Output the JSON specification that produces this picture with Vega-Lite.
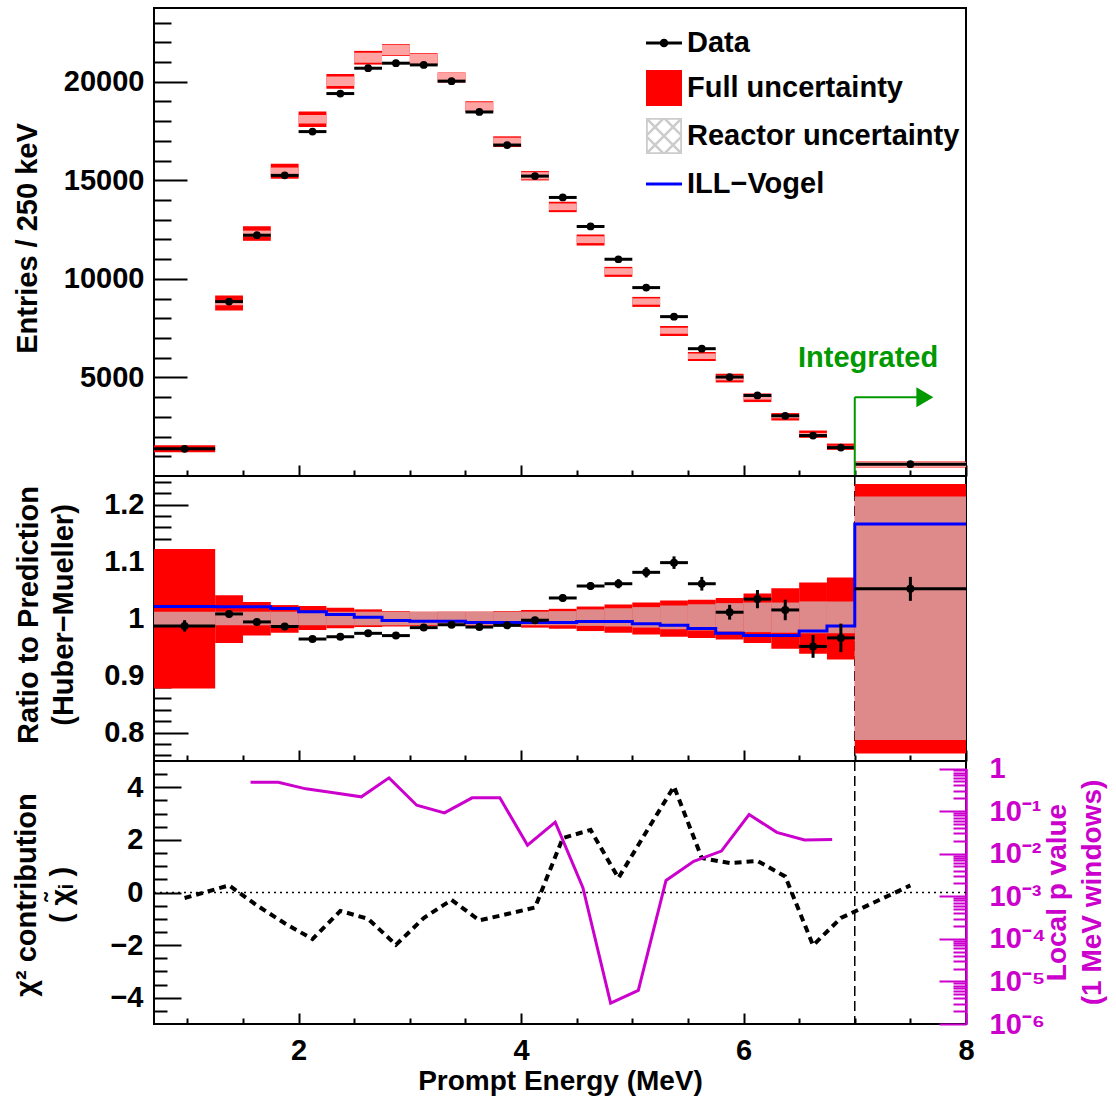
{
  "$schema": "https://vega.github.io/schema/vega-lite/v6.json",
  "padding": {"left": 11, "top": 7, "right": 4, "bottom": 4},
  "background": "white",
  "spacing": 0,
  "bounds": "flush",
  "config": {
    "font": "Liberation Sans",
    "view": {"stroke": "black", "strokeWidth": 2},
    "axis": {"domain": false, "grid": false, "labelFont": "Liberation Sans", "labelFontWeight": "bold", "labelFontSize": 29, "labelColor": "black", "titleFont": "Liberation Sans", "titleFontWeight": "bold", "titleFontSize": 29, "titleColor": "black", "tickColor": "black", "tickWidth": 2, "labelOverlap": false, "labelFlush": false, "labelBound": false}
  },
  "resolve": {"legend": {"color": "independent", "shape": "independent"}},
  "datasets": {
    "top": [
      {"lo": 0.7, "hi": 1.25, "c": 0.975, "d": 1377, "flo": 1209, "fhi": 1565, "rlo": 1370, "rhi": 1404},
      {"lo": 1.25, "hi": 1.5, "c": 1.375, "d": 8846, "flo": 8390, "fhi": 9150, "rlo": 8665, "rhi": 8875},
      {"lo": 1.5, "hi": 1.75, "c": 1.625, "d": 12215, "flo": 11930, "fhi": 12670, "rlo": 12152, "rhi": 12448},
      {"lo": 1.75, "hi": 2.0, "c": 1.875, "d": 15250, "flo": 15080, "fhi": 15840, "rlo": 15274, "rhi": 15646},
      {"lo": 2.0, "hi": 2.25, "c": 2.125, "d": 17470, "flo": 17700, "fhi": 18485, "rlo": 17875, "rhi": 18309},
      {"lo": 2.25, "hi": 2.5, "c": 2.375, "d": 19400, "flo": 19650, "fhi": 20395, "rlo": 19782, "rhi": 20262},
      {"lo": 2.5, "hi": 2.75, "c": 2.625, "d": 20685, "flo": 20870, "fhi": 21565, "rlo": 20963, "rhi": 21473},
      {"lo": 2.75, "hi": 3.0, "c": 2.875, "d": 20940, "flo": 21310, "fhi": 21905, "rlo": 21349, "rhi": 21867},
      {"lo": 3.0, "hi": 3.25, "c": 3.125, "d": 20853, "flo": 20853, "fhi": 21447, "rlo": 20896, "rhi": 21404},
      {"lo": 3.25, "hi": 3.5, "c": 3.375, "d": 20030, "flo": 19959, "fhi": 20467, "rlo": 19970, "rhi": 20456},
      {"lo": 3.5, "hi": 3.75, "c": 3.625, "d": 18465, "flo": 18465, "fhi": 19008, "rlo": 18512, "rhi": 18962},
      {"lo": 3.75, "hi": 4.0, "c": 3.875, "d": 16788, "flo": 16687, "fhi": 17230, "rlo": 16754, "rhi": 17162},
      {"lo": 4.0, "hi": 4.25, "c": 4.125, "d": 15213, "flo": 14994, "fhi": 15467, "rlo": 15047, "rhi": 15413},
      {"lo": 4.25, "hi": 4.5, "c": 4.375, "d": 14130, "flo": 13384, "fhi": 13912, "rlo": 13484, "rhi": 13825},
      {"lo": 4.5, "hi": 4.75, "c": 4.625, "d": 12657, "flo": 11690, "fhi": 12250, "rlo": 11814, "rhi": 12162},
      {"lo": 4.75, "hi": 5.0, "c": 4.875, "d": 10995, "flo": 10101, "fhi": 10609, "rlo": 10210, "rhi": 10541},
      {"lo": 5.0, "hi": 5.25, "c": 5.125, "d": 9557, "flo": 8577, "fhi": 9085, "rlo": 8690, "rhi": 9008},
      {"lo": 5.25, "hi": 5.5, "c": 5.375, "d": 8084, "flo": 7103, "fhi": 7611, "rlo": 7217, "rhi": 7526},
      {"lo": 5.5, "hi": 5.75, "c": 5.625, "d": 6458, "flo": 5833, "fhi": 6290, "rlo": 5935, "rhi": 6214},
      {"lo": 5.75, "hi": 6.0, "c": 5.875, "d": 5020, "flo": 4746, "fhi": 5188, "rlo": 4853, "rhi": 5101},
      {"lo": 6.0, "hi": 6.25, "c": 6.125, "d": 4085, "flo": 3750, "fhi": 4187, "rlo": 3873, "rhi": 4079},
      {"lo": 6.25, "hi": 6.5, "c": 6.375, "d": 3054, "flo": 2815, "fhi": 3191, "rlo": 2928, "rhi": 3087},
      {"lo": 6.5, "hi": 6.75, "c": 6.625, "d": 2053, "flo": 1936, "fhi": 2307, "rlo": 2066, "rhi": 2185},
      {"lo": 6.75, "hi": 7.0, "c": 6.875, "d": 1443, "flo": 1326, "fhi": 1646, "rlo": 1447, "rhi": 1531},
      {"lo": 7.0, "hi": 8.0, "c": 7.5, "d": 600, "flo": 427, "fhi": 732, "rlo": 457, "rhi": 704}
    ],
    "mid": [
      {"lo": 0.7, "hi": 1.25, "c": 0.975, "r": 0.987, "elo": 0.977, "ehi": 0.997, "flo": 0.877, "fhi": 1.122, "hlo": 0.988, "hhi": 1.012},
      {"lo": 1.25, "hi": 1.5, "c": 1.375, "r": 1.008, "elo": 1.002, "ehi": 1.014, "flo": 0.957, "fhi": 1.041, "hlo": 0.988, "hhi": 1.012},
      {"lo": 1.5, "hi": 1.75, "c": 1.625, "r": 0.994, "elo": 0.989, "ehi": 0.999, "flo": 0.970, "fhi": 1.029, "hlo": 0.988, "hhi": 1.012},
      {"lo": 1.75, "hi": 2.0, "c": 1.875, "r": 0.986, "elo": 0.981, "ehi": 0.991, "flo": 0.975, "fhi": 1.0235, "hlo": 0.988, "hhi": 1.012},
      {"lo": 2.0, "hi": 2.25, "c": 2.125, "r": 0.964, "elo": 0.959, "ehi": 0.969, "flo": 0.980, "fhi": 1.022, "hlo": 0.988, "hhi": 1.012},
      {"lo": 2.25, "hi": 2.5, "c": 2.375, "r": 0.968, "elo": 0.963, "ehi": 0.973, "flo": 0.983, "fhi": 1.019, "hlo": 0.988, "hhi": 1.012},
      {"lo": 2.5, "hi": 2.75, "c": 2.625, "r": 0.974, "elo": 0.969, "ehi": 0.979, "flo": 0.985, "fhi": 1.016, "hlo": 0.988, "hhi": 1.012},
      {"lo": 2.75, "hi": 3.0, "c": 2.875, "r": 0.970, "elo": 0.965, "ehi": 0.975, "flo": 0.986, "fhi": 1.013, "hlo": 0.988, "hhi": 1.012},
      {"lo": 3.0, "hi": 3.25, "c": 3.125, "r": 0.984, "elo": 0.979, "ehi": 0.989, "flo": 0.987, "fhi": 1.012, "hlo": 0.988, "hhi": 1.012},
      {"lo": 3.25, "hi": 3.5, "c": 3.375, "r": 0.989, "elo": 0.984, "ehi": 0.994, "flo": 0.987, "fhi": 1.012, "hlo": 0.988, "hhi": 1.012},
      {"lo": 3.5, "hi": 3.75, "c": 3.625, "r": 0.985, "elo": 0.980, "ehi": 0.990, "flo": 0.987, "fhi": 1.012, "hlo": 0.988, "hhi": 1.012},
      {"lo": 3.75, "hi": 4.0, "c": 3.875, "r": 0.988, "elo": 0.983, "ehi": 0.993, "flo": 0.986, "fhi": 1.013, "hlo": 0.988, "hhi": 1.012},
      {"lo": 4.0, "hi": 4.25, "c": 4.125, "r": 0.997, "elo": 0.992, "ehi": 1.002, "flo": 0.984, "fhi": 1.015, "hlo": 0.988, "hhi": 1.012},
      {"lo": 4.25, "hi": 4.5, "c": 4.375, "r": 1.036, "elo": 1.030, "ehi": 1.042, "flo": 0.982, "fhi": 1.017, "hlo": 0.988, "hhi": 1.013},
      {"lo": 4.5, "hi": 4.75, "c": 4.625, "r": 1.057, "elo": 1.050, "ehi": 1.064, "flo": 0.978, "fhi": 1.021, "hlo": 0.987, "hhi": 1.016},
      {"lo": 4.75, "hi": 5.0, "c": 4.875, "r": 1.061, "elo": 1.053, "ehi": 1.069, "flo": 0.975, "fhi": 1.0246, "hlo": 0.986, "hhi": 1.018},
      {"lo": 5.0, "hi": 5.25, "c": 5.125, "r": 1.081, "elo": 1.072, "ehi": 1.090, "flo": 0.972, "fhi": 1.028, "hlo": 0.984, "hhi": 1.020},
      {"lo": 5.25, "hi": 5.5, "c": 5.375, "r": 1.098, "elo": 1.087, "ehi": 1.109, "flo": 0.968, "fhi": 1.0316, "hlo": 0.981, "hhi": 1.023},
      {"lo": 5.5, "hi": 5.75, "c": 5.625, "r": 1.061, "elo": 1.049, "ehi": 1.073, "flo": 0.966, "fhi": 1.033, "hlo": 0.979, "hhi": 1.025},
      {"lo": 5.75, "hi": 6.0, "c": 5.875, "r": 1.011, "elo": 0.998, "ehi": 1.024, "flo": 0.963, "fhi": 1.036, "hlo": 0.977, "hhi": 1.027},
      {"lo": 6.0, "hi": 6.25, "c": 6.125, "r": 1.034, "elo": 1.018, "ehi": 1.050, "flo": 0.957, "fhi": 1.044, "hlo": 0.976, "hhi": 1.028},
      {"lo": 6.25, "hi": 6.5, "c": 6.375, "r": 1.015, "elo": 0.997, "ehi": 1.033, "flo": 0.947, "fhi": 1.053, "hlo": 0.975, "hhi": 1.028},
      {"lo": 6.5, "hi": 6.75, "c": 6.625, "r": 0.951, "elo": 0.931, "ehi": 0.971, "flo": 0.938, "fhi": 1.063, "hlo": 0.974, "hhi": 1.030},
      {"lo": 6.75, "hi": 7.0, "c": 6.875, "r": 0.966, "elo": 0.941, "ehi": 0.991, "flo": 0.928, "fhi": 1.072, "hlo": 0.974, "hhi": 1.030},
      {"lo": 7.0, "hi": 8.0, "c": 7.5, "r": 1.052, "elo": 1.031, "ehi": 1.073, "flo": 0.763, "fhi": 1.236, "hlo": 0.787, "hhi": 1.214}
    ],
    "ill": [
      {"e": 0.7, "v": 1.021}, {"e": 1.25, "v": 1.0205}, {"e": 1.5, "v": 1.0205}, {"e": 1.75, "v": 1.0176},
      {"e": 2.0, "v": 1.012}, {"e": 2.25, "v": 1.007}, {"e": 2.5, "v": 1.002}, {"e": 2.75, "v": 0.9965},
      {"e": 3.0, "v": 0.995}, {"e": 3.25, "v": 0.995}, {"e": 3.5, "v": 0.993}, {"e": 3.75, "v": 0.993},
      {"e": 4.0, "v": 0.993}, {"e": 4.25, "v": 0.993}, {"e": 4.5, "v": 0.9947}, {"e": 4.75, "v": 0.9947},
      {"e": 5.0, "v": 0.991}, {"e": 5.25, "v": 0.988}, {"e": 5.5, "v": 0.9825}, {"e": 5.75, "v": 0.974},
      {"e": 6.0, "v": 0.970}, {"e": 6.25, "v": 0.970}, {"e": 6.5, "v": 0.978}, {"e": 6.75, "v": 0.987},
      {"e": 7.0, "v": 1.166}, {"e": 8.0, "v": 1.166}
    ],
    "chi": [
      {"c": 0.975, "chi": -0.21}, {"c": 1.375, "chi": 0.27}, {"c": 1.625, "chi": -0.49}, {"c": 1.875, "chi": -1.17},
      {"c": 2.125, "chi": -1.77}, {"c": 2.375, "chi": -0.70}, {"c": 2.625, "chi": -1.0}, {"c": 2.875, "chi": -1.99},
      {"c": 3.125, "chi": -0.97}, {"c": 3.375, "chi": -0.28}, {"c": 3.625, "chi": -1.06}, {"c": 3.875, "chi": -0.82},
      {"c": 4.125, "chi": -0.57}, {"c": 4.375, "chi": 2.07}, {"c": 4.625, "chi": 2.38}, {"c": 4.875, "chi": 0.55},
      {"c": 5.125, "chi": 2.30}, {"c": 5.375, "chi": 4.03}, {"c": 5.625, "chi": 1.31}, {"c": 5.875, "chi": 1.12},
      {"c": 6.125, "chi": 1.20}, {"c": 6.375, "chi": 0.61}, {"c": 6.625, "chi": -2.01}, {"c": 6.875, "chi": -0.97},
      {"c": 7.5, "chi": 0.27}
    ],
    "pval": [
      {"e": 1.568, "p": 0.4775}, {"e": 1.817, "p": 0.4775}, {"e": 2.066, "p": 0.3327}, {"e": 2.315, "p": 0.2679},
      {"e": 2.564, "p": 0.2158}, {"e": 2.813, "p": 0.6039}, {"e": 3.062, "p": 0.1374}, {"e": 3.311, "p": 0.0908},
      {"e": 3.56, "p": 0.2046}, {"e": 3.809, "p": 0.2046}, {"e": 4.058, "p": 0.01585}, {"e": 4.307, "p": 0.055},
      {"e": 4.556, "p": 0.001585}, {"e": 4.805, "p": 0.00000309}, {"e": 5.054, "p": 0.00000617}, {"e": 5.303, "p": 0.002344},
      {"e": 5.552, "p": 0.006607}, {"e": 5.801, "p": 0.01148}, {"e": 6.05, "p": 0.0832}, {"e": 6.299, "p": 0.03162},
      {"e": 6.548, "p": 0.02089}, {"e": 6.797, "p": 0.02138}
    ]
  },
  "vconcat": [
    {
      "width": 812,
      "height": 468,
      "resolve": {"axis": {"y": "independent"}},
      "layer": [
        {
          "data": {"name": "top"},
          "layer": [
            {
              "mark": {"type": "rect", "color": "#ff0000"},
              "encoding": {
                "x": {"field": "lo", "type": "quantitative", "scale": {"domain": [0.7, 8], "nice": false, "zero": false},
                  "axis": {"values": [1, 1.5, 2, 2.5, 3, 3.5, 4, 4.5, 5, 5.5, 6, 6.5, 7, 7.5, 8], "labels": false, "title": null, "minExtent": 0,
                    "tickSize": {"condition": {"test": "datum.value % 2 === 0", "value": -11}, "value": -6}}},
                "x2": {"field": "hi"},
                "y": {"field": "flo", "type": "quantitative", "scale": {"domain": [0, 23740], "nice": false, "zero": false},
                  "axis": {"orient": "left", "values": [5000, 10000, 15000, 20000], "format": "d", "tickSize": -33, "labelPadding": 43,
                    "title": "Entries / 250 keV", "titleX": -127, "titleY": 230, "titleBaseline": "middle", "titleAngle": 270, "titleAlign": "center"}},
                "y2": {"field": "fhi"}
              }
            },
            {
              "mark": {"type": "rect", "color": "#ffa3a3"},
              "encoding": {
                "x": {"field": "lo", "type": "quantitative"},
                "x2": {"field": "hi"},
                "y": {"field": "rlo", "type": "quantitative"},
                "y2": {"field": "rhi"}
              }
            },
            {
              "mark": {"type": "rule", "color": "black", "strokeWidth": 3},
              "encoding": {
                "x": {"field": "lo", "type": "quantitative"},
                "x2": {"field": "hi"},
                "y": {"field": "d", "type": "quantitative"}
              }
            },
            {
              "mark": {"type": "point", "filled": true, "color": "black", "opacity": 1, "size": 60, "strokeWidth": 0},
              "encoding": {
                "x": {"field": "c", "type": "quantitative"},
                "y": {"field": "d", "type": "quantitative"}
              }
            },
            {
              "data": {"values": [{"x": 7, "ya": 0, "yb": 4000}]},
              "mark": {"type": "rule", "color": "#009900", "strokeWidth": 2},
              "encoding": {
                "x": {"field": "x", "type": "quantitative"},
                "y": {"field": "ya", "type": "quantitative"},
                "y2": {"field": "yb"}
              }
            },
            {
              "data": {"values": [{"xa": 7, "xb": 7.56, "y": 4000}]},
              "mark": {"type": "rule", "color": "#009900", "strokeWidth": 2},
              "encoding": {
                "x": {"field": "xa", "type": "quantitative"},
                "x2": {"field": "xb"},
                "y": {"field": "y", "type": "quantitative"}
              }
            },
            {
              "data": {"values": [{"x": 7.63, "y": 4000}]},
              "mark": {"type": "point", "shape": "M-0.85,-1L0.85,0L-0.85,1Z", "filled": true, "color": "#009900", "opacity": 1, "size": 400, "strokeWidth": 0},
              "encoding": {
                "x": {"field": "x", "type": "quantitative"},
                "y": {"field": "y", "type": "quantitative"}
              }
            },
            {
              "data": {"values": [{"x": 7.12, "y": 5540, "label": "Integrated"}]},
              "mark": {"type": "text", "color": "#009900", "font": "Liberation Sans", "fontWeight": "bold", "fontSize": 29, "align": "center", "baseline": "alphabetic"},
              "encoding": {
                "x": {"field": "x", "type": "quantitative"},
                "y": {"field": "y", "type": "quantitative"},
                "text": {"field": "label"}
              }
            },
            {
              "data": {"values": [{"series": "Data"}, {"series": "Full uncertainty"}, {"series": "Reactor uncertainty"}, {"series": "ILL−Vogel"}]},
              "mark": {"type": "point", "filled": true, "opacity": 1, "invalid": "filter", "strokeWidth": 0},
              "encoding": {
                "x": {"field": "c", "type": "quantitative"},
                "y": {"field": "d", "type": "quantitative"},
                "color": {"field": "series", "type": "nominal",
                  "scale": {"domain": ["Data", "Full uncertainty", "Reactor uncertainty", "ILL−Vogel"], "range": ["#000000", "#ff0000", "#cccccc", "#0000ff"]},
                  "legend": {"orient": "none", "legendX": 492, "legendY": 17, "title": null, "symbolSize": 1296, "labelFontSize": 29, "labelFont": "Liberation Sans", "labelFontWeight": "bold", "labelColor": "black", "labelOffset": 5, "rowPadding": 12, "labelLimit": 600, "padding": 0, "symbolStrokeWidth": 0, "symbolOpacity": 1}},
                "shape": {"field": "series", "type": "nominal",
                  "scale": {"domain": ["Data", "Full uncertainty", "Reactor uncertainty", "ILL−Vogel"],
                    "range": [
                      "M-1,-0.09H1V0.09H-1Z M-0.24,0A0.24,0.24,0,1,1,0.24,0A0.24,0.24,0,1,1,-0.24,0Z",
                      "M-1,-1H1V1H-1Z",
                      "M-1,-1H1V1H-1Z M-0.9,-0.9V0.9H0.9V-0.9Z M-1,0.9L0.9,-1L1,-1L1,-0.9L-0.9,1L-1,1Z M-1,-0.1L-0.1,-1L0.1,-1L-1,0.1Z M1,0.1L0.1,1L-0.1,1L1,-0.1Z M-1,-1L-0.9,-1L1,0.9L1,1L0.9,1L-1,-0.9Z M-1,-0.1L0.1,1L-0.1,1L-1,0.1Z M0.1,-1L1,-0.1L1,0.1L-0.1,-1Z",
                      "M-1,-0.09H1V0.09H-1Z"
                    ]}}
              }
            }
          ]
        },
        {
          "data": {"values": []},
          "mark": {"type": "point"},
          "encoding": {
            "y": {"field": "flo", "type": "quantitative",
              "axis": {"orient": "left", "values": [1000, 2000, 3000, 4000, 6000, 7000, 8000, 9000, 11000, 12000, 13000, 14000, 16000, 17000, 18000, 19000, 21000, 22000, 23000], "labels": false, "title": null, "tickSize": -17, "minExtent": 0}}
          }
        }
      ]
    },
    {
      "width": 812,
      "height": 285,
      "resolve": {"axis": {"y": "independent"}},
      "layer": [
        {
          "data": {"name": "mid"},
          "layer": [
            {
              "data": {"values": [{"x": 7}]},
              "mark": {"type": "rule", "color": "black", "strokeWidth": 1.5, "strokeDash": [10, 5]},
              "encoding": {
                "x": {"field": "x", "type": "quantitative", "scale": {"domain": [0.7, 8], "nice": false, "zero": false},
                  "axis": {"values": [1, 1.5, 2, 2.5, 3, 3.5, 4, 4.5, 5, 5.5, 6, 6.5, 7, 7.5, 8], "labels": false, "title": null, "minExtent": 0,
                    "tickSize": {"condition": {"test": "datum.value % 2 === 0", "value": -11}, "value": -6}}}
              }
            },
            {
              "mark": {"type": "rect", "color": "#ff0000"},
              "encoding": {
                "x": {"field": "lo", "type": "quantitative"},
                "x2": {"field": "hi"},
                "y": {"field": "flo", "type": "quantitative", "scale": {"domain": [0.75, 1.25], "nice": false, "zero": false},
                  "axis": {"orient": "left", "values": [0.8, 0.9, 1, 1.1, 1.2], "tickSize": -34, "labelPadding": 44,
                    "labelExpr": "format(datum.value, '~g')",
                    "title": ["Ratio to Prediction", "(Huber−Mueller)"], "titleX": -125.5, "titleY": 138.5, "titleBaseline": "middle", "titleAngle": 270, "titleAlign": "center", "titleLineHeight": 35}},
                "y2": {"field": "fhi"}
              }
            },
            {
              "mark": {"type": "rect", "color": "#de8a8a"},
              "encoding": {
                "x": {"field": "lo", "type": "quantitative"},
                "x2": {"field": "hi"},
                "y": {"field": "hlo", "type": "quantitative"},
                "y2": {"field": "hhi"}
              }
            },
            {
              "data": {"name": "ill"},
              "mark": {"type": "line", "color": "#0000ff", "strokeWidth": 3, "interpolate": "step-after"},
              "encoding": {
                "x": {"field": "e", "type": "quantitative"},
                "y": {"field": "v", "type": "quantitative"}
              }
            },
            {
              "mark": {"type": "rule", "color": "black", "strokeWidth": 3},
              "encoding": {
                "x": {"field": "c", "type": "quantitative"},
                "y": {"field": "elo", "type": "quantitative"},
                "y2": {"field": "ehi"}
              }
            },
            {
              "mark": {"type": "rule", "color": "black", "strokeWidth": 3},
              "encoding": {
                "x": {"field": "lo", "type": "quantitative"},
                "x2": {"field": "hi"},
                "y": {"field": "r", "type": "quantitative"}
              }
            },
            {
              "mark": {"type": "point", "filled": true, "color": "black", "opacity": 1, "size": 64, "strokeWidth": 0},
              "encoding": {
                "x": {"field": "c", "type": "quantitative"},
                "y": {"field": "r", "type": "quantitative"}
              }
            }
          ]
        },
        {
          "data": {"values": []},
          "mark": {"type": "point"},
          "encoding": {
            "y": {"field": "flo", "type": "quantitative",
              "axis": {"orient": "left", "values": [0.76, 0.78, 0.82, 0.84, 0.86, 0.88, 0.92, 0.94, 0.96, 0.98, 1.02, 1.04, 1.06, 1.08, 1.12, 1.14, 1.16, 1.18, 1.22, 1.24], "labels": false, "title": null, "tickSize": -17, "minExtent": 0}}
          }
        }
      ]
    },
    {
      "width": 812,
      "height": 263,
      "resolve": {"scale": {"y": "independent"}},
      "layer": [
        {
          "resolve": {"axis": {"y": "independent"}},
          "layer": [
            {
              "layer": [
                {
                  "data": {"values": [{"y": 0}]},
                  "mark": {"type": "rule", "color": "black", "strokeWidth": 1.5, "strokeDash": [2, 4]},
                  "encoding": {
                    "y": {"field": "y", "type": "quantitative", "scale": {"domain": [-5, 5], "nice": false, "zero": false},
                      "axis": {"orient": "left", "values": [-4, -2, 0, 2, 4], "tickSize": -27, "labelPadding": 38,
                        "labelExpr": "format(datum.value, 'd')",
                        "title": ["χ² contribution", "( χ̃ᵢ )"], "titleX": -127.5, "titleY": 133.5, "titleBaseline": "middle", "titleAngle": 270, "titleAlign": "center", "titleLineHeight": 35}}
                  }
                },
                {
                  "data": {"values": [{"x": 7}]},
                  "mark": {"type": "rule", "color": "black", "strokeWidth": 1.5, "strokeDash": [10, 5]},
                  "encoding": {
                    "x": {"field": "x", "type": "quantitative", "scale": {"domain": [0.7, 8], "nice": false, "zero": false},
                      "axis": {"values": [1, 1.5, 2, 2.5, 3, 3.5, 4, 4.5, 5, 5.5, 6, 6.5, 7, 7.5, 8],
                        "tickSize": {"condition": {"test": "datum.value % 2 === 0", "value": -11}, "value": -6},
                        "labelExpr": "datum.value % 2 === 0 ? format(datum.value, 'd') : ''",
                        "labelPadding": 23,
                        "title": "Prompt Energy (MeV)", "titleY": 65, "titleBaseline": "alphabetic", "titleFontSize": 28}}
                  }
                },
                {
                  "data": {"name": "chi"},
                  "mark": {"type": "line", "color": "black", "strokeWidth": 4, "strokeDash": [7, 5]},
                  "encoding": {
                    "x": {"field": "c", "type": "quantitative"},
                    "y": {"field": "chi", "type": "quantitative"}
                  }
                }
              ]
            },
            {
              "data": {"values": []},
              "mark": {"type": "point"},
              "encoding": {
                "y": {"field": "chi", "type": "quantitative",
                  "axis": {"orient": "left", "values": [-4.5, -3.5, -3, -2.5, -1.5, -1, -0.5, 0.5, 1, 1.5, 2.5, 3, 3.5, 4.5], "labels": false, "title": null, "tickSize": -13, "minExtent": 0}}
              }
            }
          ]
        },
        {
          "data": {"name": "pval"},
          "mark": {"type": "line", "color": "#cc00cc", "strokeWidth": 3},
          "encoding": {
            "x": {"field": "e", "type": "quantitative"},
            "y": {"field": "p", "type": "quantitative", "scale": {"type": "log", "domain": [0.000001, 1], "range": [263, 7.5], "nice": false},
              "axis": {"orient": "right",
                "values": [0.000001, 0.000002, 0.000003, 0.000004, 0.000005, 0.000006, 0.000007, 0.000008, 0.000009, 0.00001, 0.00002, 0.00003, 0.00004, 0.00005, 0.00006, 0.00007, 0.00008, 0.00009, 0.0001, 0.0002, 0.0003, 0.0004, 0.0005, 0.0006, 0.0007, 0.0008, 0.0009, 0.001, 0.002, 0.003, 0.004, 0.005, 0.006, 0.007, 0.008, 0.009, 0.01, 0.02, 0.03, 0.04, 0.05, 0.06, 0.07, 0.08, 0.09, 0.1, 0.2, 0.3, 0.4, 0.5, 0.6, 0.7, 0.8, 0.9, 1],
                "labelOverlap": false,
                "tickSize": {"condition": {"test": "abs(log(datum.value)/LN10 - round(log(datum.value)/LN10)) < 0.001", "value": -27}, "value": -13},
                "tickColor": "#cc00cc",
                "domain": true, "domainColor": "#cc00cc", "domainWidth": 2.5,
                "labelColor": "#cc00cc",
                "labelAlign": "left",
                "labelPadding": 50,
                "labelExpr": "abs(log(datum.value)/LN10 - round(log(datum.value)/LN10)) < 0.001 ? (round(log(datum.value)/LN10) === 0 ? '1' : '10' + ['⁻⁶','⁻⁵','⁻⁴','⁻³','⁻²','⁻¹'][round(log(datum.value)/LN10) + 6]) : ''",
                "title": ["Local p value", "(1 MeV windows)"], "titleColor": "#cc00cc", "titleFontSize": 28,
                "titleX": 91, "titleY": 131, "titleBaseline": "middle", "titleAngle": 270, "titleAlign": "center", "titleLineHeight": 35}}
          }
        }
      ]
    }
  ]
}
